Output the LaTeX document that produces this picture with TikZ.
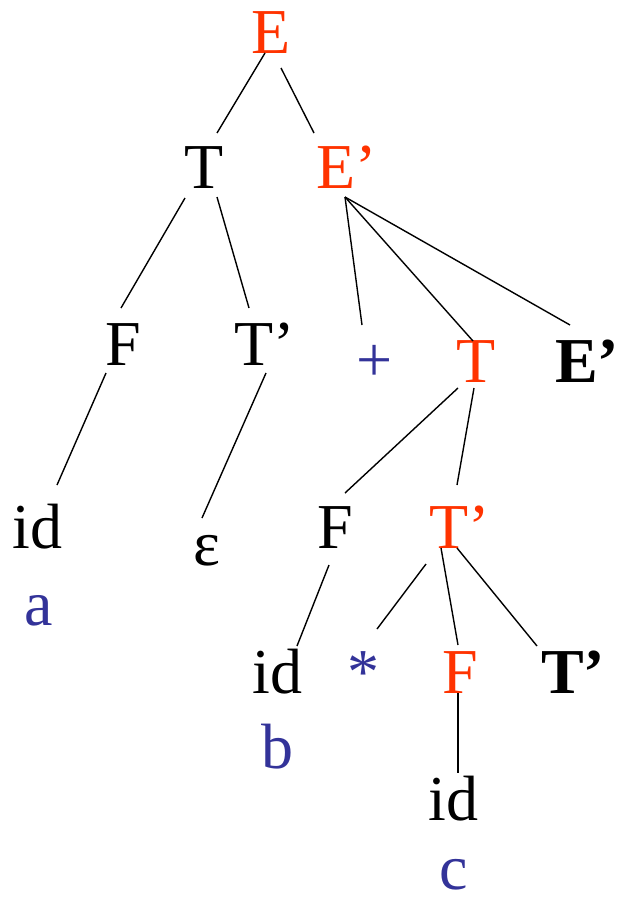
\documentclass[tikz,border=0pt]{standalone}
\usepackage{fontspec}
\setmainfont{Liberation Serif}
\usetikzlibrary{calc}
\definecolor{nred}{HTML}{FF3300}
\definecolor{nblue}{HTML}{333399}
\begin{document}
\begin{tikzpicture}[x=1pt,y=-1pt,
  sym/.style={inner sep=0pt,anchor=base,font=\fontsize{64}{70}\selectfont},
  red/.style={sym,text=nred},
  blue/.style={sym,text=nblue},
  bld/.style={sym,font=\fontsize{64}{70}\selectfont\bfseries},
  edge/.style={line width=1.4pt,black}]
\useasboundingbox (0,0) rectangle (620,899);
\node[red]  (E)   at (271.5,53) {E};
\node[sym]  (T1)  at (204,188) {T};
\node[red]  (Ep1) at (346.5,188) {E’};
\node[sym]  (F1)  at (123,365) {F};
\node[sym]  (Tp1) at (265,365) {T’};
\node[blue] (plus) at (375,381) {+};
\node[red]  (T2)  at (476.5,382) {T};
\node[bld]  (Ep2) at (587,382) {E’};
\node[sym]  (id1) at (37.5,548) {id};
\node[sym]  (eps) at (206.5,565) {ε};
\node[blue] (a)   at (39,625) {a};
\node[sym]  (F2)  at (335,548) {F};
\node[red]  (Tp2) at (460,548) {T’};
\node[sym]  (id2) at (277.5,693) {id};
\node[blue] (star) at (363.5,693) {*};
\node[red]  (F3)  at (460.5,693) {F};
\node[bld]  (Tp3) at (573,693) {T’};
\node[blue] (b)   at (277.5,768) {b};
\node[sym]  (id3) at (453.5,820) {id};
\node[blue,text depth=0pt] (c) at (454,889) {c};
\draw[edge] ($(E.base)+(-6.5,0)$) -- ($(T1.base)+(13,-55)$);
\draw[edge] ($(E.base)+(9.5,15)$) -- ($(Ep1.base)+(-32.5,-55)$);
\draw[edge] ($(T1.base)+(-19,10)$) -- ($(F1.base)+(-2,-57)$);
\draw[edge] ($(T1.base)+(13,9)$) -- ($(Tp1.base)+(-16,-57)$);
\draw[edge] ($(Ep1.base)+(-1.5,9)$) -- ($(plus.base)+(-13,-56)$);
\draw[edge] ($(Ep1.base)+(-1.5,9)$) -- ($(T2.base)+(-3.5,-41)$);
\draw[edge] ($(Ep1.base)+(-1.5,9)$) -- ($(Ep2.base)+(-17,-57)$);
\draw[edge] ($(F1.base)+(-17,8)$) -- ($(id1.base)+(19.5,-63)$);
\draw[edge] ($(Tp1.base)+(1,8)$) -- ($(eps.base)+(-4.5,-47)$);
\draw[edge] ($(T2.base)+(-18.5,6)$) -- ($(F2.base)+(10,-55)$);
\draw[edge] ($(T2.base)+(-2.5,6)$) -- ($(Tp2.base)+(-3,-63)$);
\draw[edge] ($(F2.base)+(-6,17)$) -- ($(id2.base)+(19.5,-47)$);
\draw[edge] ($(Tp2.base)+(-34,16)$) -- ($(star.base)+(13.5,-64)$);
\draw[edge] ($(Tp2.base)+(-19,0)$) -- ($(F3.base)+(-2.5,-48)$);
\draw[edge] ($(Tp2.base)+(-3,0)$) -- ($(Tp3.base)+(-36,-47)$);
\draw[edge] ($(F3.base)+(-2.5,0)$) -- ($(id3.base)+(4.5,-47)$);
\end{tikzpicture}
\end{document}
